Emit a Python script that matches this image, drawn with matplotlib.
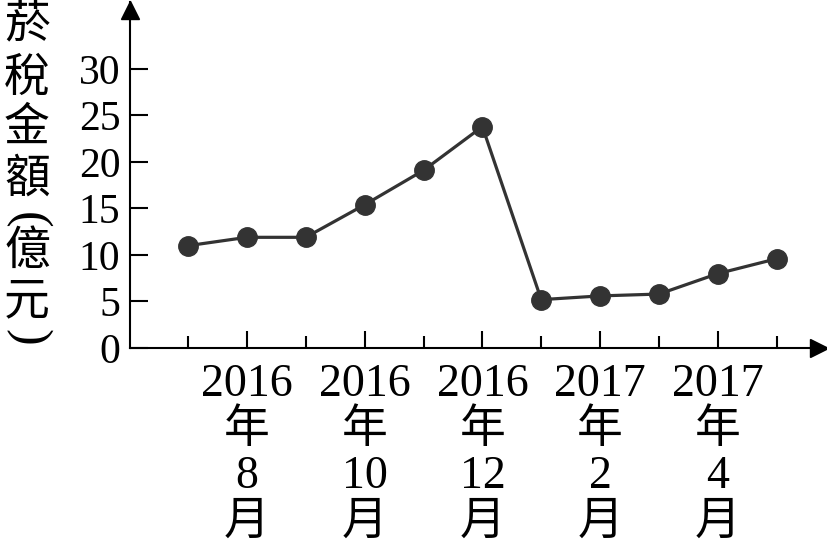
import matplotlib
matplotlib.use("Agg")
import matplotlib.pyplot as plt

# monthly values, 2016/7 .. 2017/5
months = ["2016/7", "2016/8", "2016/9", "2016/10", "2016/11", "2016/12",
          "2017/1", "2017/2", "2017/3", "2017/4", "2017/5"]
tax = [11.0, 11.9, 11.9, 15.4, 19.1, 23.8, 5.2, 5.6, 5.8, 8.0, 9.6]
label_pos = [2, 4, 6, 8, 10]
label_text = ["2016\n年\n8\n月", "2016\n年\n10\n月", "2016\n年\n12\n月",
              "2017\n年\n2\n月", "2017\n年\n4\n月"]
yticks = [0, 5, 10, 15, 20, 25, 30]
ylabel_chars = ["菸", "稅", "金", "額", "(", "億", "元", ")"]

W, H = 828, 547
fonts = ["Liberation Serif", "Noto Sans CJK TC", "DejaVu Sans"]
dark = "#333333"

fig = plt.figure(figsize=(W / 100, H / 100), dpi=100)
ax = fig.add_axes([130 / W, (H - 348) / H, (W - 130) / W, 346 / H])

x = list(range(1, len(tax) + 1))
ax.plot(x, tax, color=dark, lw=2.3, marker="o", ms=14, mfc=dark, mec=dark, zorder=3)

ax.set_xlim(0.015, 11.87)
ax.set_ylim(0, 37.2)

for s in ["top", "right"]:
    ax.spines[s].set_visible(False)
for s in ["left", "bottom"]:
    ax.spines[s].set_linewidth(1.5)
    ax.spines[s].set_color("black")

ax.set_yticks(yticks)
ax.set_yticklabels([str(v) for v in yticks], family=fonts, fontsize=30)
ax.tick_params(axis="y", direction="in", length=13, width=1.5, pad=7)

ax.set_xticks(label_pos)
ax.set_xticklabels(label_text, family=fonts, fontsize=33, linespacing=1.1,
                   va="top")
ax.set_xticks([1, 3, 5, 7, 9, 11], minor=True)
ax.tick_params(axis="x", which="major", direction="in", length=12.5, width=1.5, pad=11)
ax.tick_params(axis="x", which="minor", direction="in", length=8.5, width=1.5)

# arrow heads
ax.plot([0.015], [36.3], marker="^", ms=13, color="black", clip_on=False, zorder=5)
ax.plot([11.72], [0], marker=">", ms=13, color="black", clip_on=False, zorder=5)

# vertical y label (parentheses turned for vertical writing)
ypix = [27, 80, 130, 180, 220, 253, 303, 337]
for ch, py in zip(ylabel_chars, ypix):
    if ch in ("(", ")"):
        fig.text(27 / W, 1 - py / H, ch, family="Liberation Serif", fontsize=36,
                 ha="center", va="center", rotation=-90, rotation_mode="anchor")
    else:
        fig.text(27 / W, 1 - py / H, ch, family=fonts, fontsize=33,
                 ha="center", va="center")

fig.savefig("out.png", dpi=100)
